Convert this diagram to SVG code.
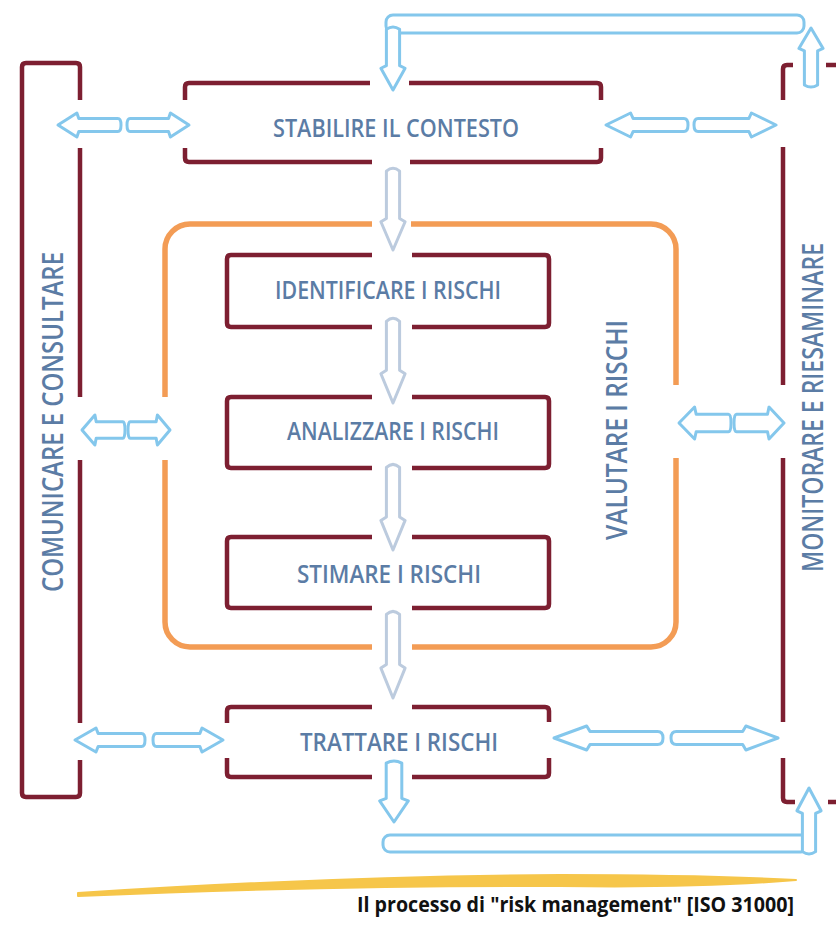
<svg xmlns="http://www.w3.org/2000/svg" xmlns:xlink="http://www.w3.org/1999/xlink" width="836" height="928" viewBox="0 0 836 928">
<style>
.box{fill:none;stroke:#7d1f31;stroke-width:4.5;stroke-linecap:butt;stroke-linejoin:round}
.orange{fill:none;stroke:#f39c55;stroke-width:5.5;stroke-linecap:butt}
.lbl{font-family:"Open Sans","Liberation Sans",sans-serif;font-weight:600;fill:#5b7ca5;font-size:26px}
.vlbl{font-family:"Open Sans","Liberation Sans",sans-serif;font-weight:600;fill:#5b7ca5;font-size:29px}
.barrow{fill:#ffffff;stroke:#84c7ec;stroke-width:3;stroke-linejoin:round}
.garrow{fill:#ffffff;stroke:#bccbde;stroke-width:3;stroke-linejoin:round}
.tube{fill:#ffffff;stroke:#84c7ec;stroke-width:3}
.cap{font-family:"Open Sans","Liberation Sans",sans-serif;font-weight:700;fill:#111111;font-size:21px}
</style>
<defs>
<path id="ah" vector-effect="non-scaling-stroke" d="M0,0 L30,-10 L33,-5.5 L95,-5.5 Q100,-5.5 100,0 Q100,5.5 95,5.5 L33,5.5 L30,10 Z"/>
<path id="va" vector-effect="non-scaling-stroke" d="M-6,5 Q0,-2 6,5 L6,62 L11,66 L0,100 L-11,66 L-6,62 Z"/>
</defs>
<rect x="0" y="0" width="836" height="928" fill="#ffffff"/>

<g id="comunicare">
<path class="box" d="M80,100 L80,67 Q80,63 76,63 L26,63 Q22,63 22,67 L22,793 Q22,797 26,797 L76,797 Q80,797 80,793 L80,760 M80,723 L80,460 M80,397 L80,148"/>
<text class="vlbl" transform="translate(63,592) rotate(-90)" textLength="340" lengthAdjust="spacingAndGlyphs">COMUNICARE E CONSULTARE</text>
</g>

<g id="monitorare">
<path class="box" d="M793,65 L787,65 Q783,65 783,69 L783,100 M783,147 L783,385 M783,458 L783,722 M783,758 L783,798 Q783,802 787,802 L795,802 M826,65 L845,65 M828,802 L845,802"/>
<text class="vlbl" transform="translate(823,572) rotate(-90)" textLength="329" lengthAdjust="spacingAndGlyphs">MONITORARE E RIESAMINARE</text>
</g>

<g id="valutare">
<path class="orange" d="M372,224 L190,224 A25,25 0 0 0 165,249 L165,397 M165,460 L165,622 A25,25 0 0 0 190,647 L372,647 M412,647 L651,647 A25,25 0 0 0 676,622 L676,458 M676,385 L676,249 A25,25 0 0 0 651,224 L411,224"/>
<text class="vlbl" transform="translate(627,540) rotate(-90)" textLength="220" lengthAdjust="spacingAndGlyphs">VALUTARE I RISCHI</text>
</g>

<g id="stabilire">
<path class="box" d="M370,83 L189,83 Q185,83 185,87 L185,100 M185,148 L185,158 Q185,162 189,162 L372,162 M409,83 L597,83 Q601,83 601,87 L601,100 M601,148 L601,158 Q601,162 597,162 L410,162"/>
<text class="lbl" x="273" y="137" textLength="246" lengthAdjust="spacingAndGlyphs">STABILIRE IL CONTESTO</text>
</g>

<g id="identificare">
<path class="box" d="M372,255 L231,255 Q227,255 227,259 L227,323 Q227,327 231,327 L372,327 M412,327 L545,327 Q549,327 549,323 L549,259 Q549,255 545,255 L412,255"/>
<text class="lbl" x="275" y="299" textLength="226" lengthAdjust="spacingAndGlyphs">IDENTIFICARE I RISCHI</text>
</g>

<g id="analizzare">
<path class="box" d="M372,397 L231,397 Q227,397 227,401 L227,464 Q227,468 231,468 L372,468 M412,468 L545,468 Q549,468 549,464 L549,401 Q549,397 545,397 L412,397"/>
<text class="lbl" x="287" y="440" textLength="212" lengthAdjust="spacingAndGlyphs">ANALIZZARE I RISCHI</text>
</g>

<g id="stimare">
<path class="box" d="M372,537 L231,537 Q227,537 227,541 L227,604 Q227,608 231,608 L372,608 M412,608 L545,608 Q549,608 549,604 L549,541 Q549,537 545,537 L412,537"/>
<text class="lbl" x="297" y="583" textLength="184" lengthAdjust="spacingAndGlyphs">STIMARE I RISCHI</text>
</g>

<g id="trattare">
<path class="box" d="M372,707 L231,707 Q227,707 227,711 L227,723 M227,758 L227,773 Q227,777 231,777 L372,777 M412,777 L545,777 Q549,777 549,773 L549,758 M549,722 L549,711 Q549,707 545,707 L412,707"/>
<text class="lbl" x="300" y="751" textLength="198" lengthAdjust="spacingAndGlyphs">TRATTARE I RISCHI</text>
</g>

<g id="connectors">
<rect class="tube" x="386" y="15" width="418" height="18" rx="7"/>
<use href="#va" xlink:href="#va" class="barrow" transform="translate(393,26) scale(1.1,0.64)"/>
<use href="#va" xlink:href="#va" class="barrow" transform="translate(811,88) scale(1.1,-0.6)"/>
<rect class="tube" x="383" y="835" width="425" height="17" rx="7"/>
<use href="#va" xlink:href="#va" class="barrow" transform="translate(809,855) scale(1.1,-0.67)"/>
<use href="#va" xlink:href="#va" class="barrow" transform="translate(394,760) scale(1.3,0.62)"/>
<use href="#va" xlink:href="#va" class="garrow" transform="translate(393,167) scale(1.1,0.83)"/>
<use href="#va" xlink:href="#va" class="garrow" transform="translate(393,317) scale(1.1,0.86)"/>
<use href="#va" xlink:href="#va" class="garrow" transform="translate(393,463) scale(1.1,0.87)"/>
<use href="#va" xlink:href="#va" class="garrow" transform="translate(393,610) scale(1.1,0.88)"/>
<use href="#ah" xlink:href="#ah" class="barrow" transform="translate(58,125) scale(0.63,1.2)"/>
<use href="#ah" xlink:href="#ah" class="barrow" transform="translate(189,125) scale(-0.62,1.2)"/>
<use href="#ah" xlink:href="#ah" class="barrow" transform="translate(606,125) scale(0.82,1.2)"/>
<use href="#ah" xlink:href="#ah" class="barrow" transform="translate(776,125) scale(-0.82,1.2)"/>
<use href="#ah" xlink:href="#ah" class="barrow" transform="translate(82,430) scale(0.43,1.5)"/>
<use href="#ah" xlink:href="#ah" class="barrow" transform="translate(170,430) scale(-0.42,1.5)"/>
<use href="#ah" xlink:href="#ah" class="barrow" transform="translate(679,423) scale(0.52,1.6)"/>
<use href="#ah" xlink:href="#ah" class="barrow" transform="translate(784,423) scale(-0.5,1.6)"/>
<use href="#ah" xlink:href="#ah" class="barrow" transform="translate(75,740) scale(0.7,1.2)"/>
<use href="#ah" xlink:href="#ah" class="barrow" transform="translate(223,740) scale(-0.7,1.2)"/>
<use href="#ah" xlink:href="#ah" class="barrow" transform="translate(554,738) scale(1.09,1.2)"/>
<use href="#ah" xlink:href="#ah" class="barrow" transform="translate(778,738) scale(-1.07,1.2)"/>
</g>

<path d="M78,893 Q340,876 560,875 Q700,875 796,880 Q700,888 560,886 Q340,885 78,896 Z" fill="#f6c64a" stroke="#f6c64a" stroke-width="2" stroke-linejoin="round"/>
<text class="cap" x="357" y="912" textLength="437" lengthAdjust="spacingAndGlyphs">Il processo di "risk management" [ISO 31000]</text>
</svg>
